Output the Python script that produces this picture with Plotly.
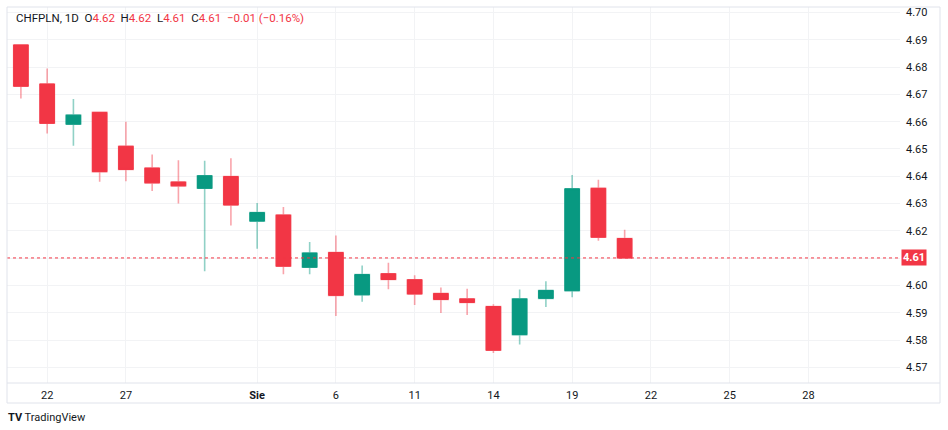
import pandas as pd
import plotly.graph_objects as go

# CHFPLN daily candles (Jul 21 - Aug 21, 2020)
dates = ["2020-07-21", "2020-07-22", "2020-07-23", "2020-07-24", "2020-07-27",
         "2020-07-28", "2020-07-29", "2020-07-30", "2020-07-31", "2020-08-03",
         "2020-08-04", "2020-08-05", "2020-08-06", "2020-08-07", "2020-08-10",
         "2020-08-11", "2020-08-12", "2020-08-13", "2020-08-14", "2020-08-17",
         "2020-08-18", "2020-08-19", "2020-08-20", "2020-08-21"]
opens = [4.6881, 4.6738, 4.6591, 4.6634, 4.6510, 4.6430, 4.6379, 4.6356,
         4.6399, 4.6236, 4.6258, 4.6067, 4.6121, 4.5966, 4.6043, 4.6021,
         4.5971, 4.5951, 4.5923, 4.5820, 4.5953, 4.5981, 4.6356, 4.6172]
highs = [4.6881, 4.6795, 4.6683, 4.6636, 4.6600, 4.6480, 4.6459, 4.6457,
         4.6466, 4.6302, 4.6288, 4.6159, 4.6183, 4.6073, 4.6083, 4.6038,
         4.5993, 4.5988, 4.5931, 4.5985, 4.6016, 4.6405, 4.6387, 4.6204]
lows = [4.6685, 4.6557, 4.6512, 4.6380, 4.6382, 4.6346, 4.6300, 4.6052,
        4.6220, 4.6135, 4.6041, 4.6041, 4.5888, 4.5941, 4.5986, 4.5929,
        4.5899, 4.5892, 4.5753, 4.5784, 4.5921, 4.5957, 4.6164, 4.6100]
closes = [4.6730, 4.6594, 4.6624, 4.6417, 4.6425, 4.6376, 4.6365, 4.6402,
          4.6295, 4.6267, 4.6071, 4.6119, 4.5964, 4.6040, 4.6022, 4.5969,
          4.5949, 4.5938, 4.5763, 4.5951, 4.5982, 4.6354, 4.6177, 4.6101]

tick_dates = ["2020-07-22", "2020-07-27", "2020-08-03", "2020-08-06", "2020-08-11",
              "2020-08-14", "2020-08-19", "2020-08-22", "2020-08-25", "2020-08-28"]
tick_text = ["22", "27", "<b>Sie</b>", "6", "11", "14", "19", "22", "25", "28"]
y_ticks = [4.57, 4.58, 4.59, 4.60, 4.61, 4.62, 4.63, 4.64, 4.65, 4.66, 4.67, 4.68, 4.69, 4.70]

RED = "#F23645"
GREEN = "#089981"
TEXT = "#131722"
BORDER = "#e0e3eb"

# bar index timeline: trading days, then projected calendar days
future = [d.strftime("%Y-%m-%d") for d in pd.date_range("2020-08-22", periods=12)]
timeline = dates + future
x = [timeline.index(d) for d in dates]
tickvals = [timeline.index(d) for d in tick_dates]

body_hi = [max(o, c) for o, c in zip(opens, closes)]
body_lo = [min(o, c) for o, c in zip(opens, closes)]

last = closes[-1]
chg = last - closes[-2]
pct = chg / closes[-2] * 100

def fmt(v):
    return ("%.2f" % v).replace("-", "\u2212")

# price label box sits over the last-price tick
y_text = ["" if fmt(t) == fmt(last) else fmt(t) for t in y_ticks]

fig = go.Figure()
# wicks (lighter)
fig.add_trace(go.Candlestick(
    x=x, open=opens, high=highs, low=lows, close=closes,
    increasing=dict(line=dict(color="rgba(8,153,129,0.45)", width=1.6), fillcolor="rgba(8,153,129,0.45)"),
    decreasing=dict(line=dict(color="rgba(242,54,69,0.45)", width=1.6), fillcolor="rgba(242,54,69,0.45)"),
    whiskerwidth=0, showlegend=False, hoverinfo="skip"))
# bodies
fig.add_trace(go.Candlestick(
    x=x, open=opens, high=body_hi, low=body_lo, close=closes,
    increasing=dict(line=dict(color=GREEN, width=1), fillcolor=GREEN),
    decreasing=dict(line=dict(color=RED, width=1), fillcolor=RED),
    whiskerwidth=0, showlegend=False, hoverinfo="skip"))

header = ("<span style='color:%s'>CHFPLN, 1D&nbsp;&nbsp;O</span>%s"
          "<span style='color:%s'>&nbsp;&nbsp;H</span>%s"
          "<span style='color:%s'>&nbsp;&nbsp;L</span>%s"
          "<span style='color:%s'>&nbsp;&nbsp;C</span>%s&nbsp;&nbsp;%s (%s%%)") % (
    TEXT, fmt(opens[-1]), TEXT, fmt(highs[-1]), TEXT, fmt(lows[-1]), TEXT, fmt(last),
    fmt(chg), fmt(pct))

fig.update_layout(
    width=948, height=430,
    margin=dict(l=7, r=48, t=7, b=47),
    paper_bgcolor="white", plot_bgcolor="white",
    font=dict(family="Roboto, 'Noto Sans', sans-serif", size=11, color=TEXT),
    boxgap=0.21,
    xaxis=dict(range=[-0.53, 33.49], rangeslider=dict(visible=False),
               tickvals=tickvals, ticktext=tick_text, showgrid=True,
               gridcolor="#f2f3f5", gridwidth=1, zeroline=False, showline=False,
               ticks="", ticklabelstandoff=4, tickfont=dict(size=11, color=TEXT)),
    yaxis=dict(range=[4.5643, 4.7020], side="right", tickvals=y_ticks, ticktext=y_text,
               showgrid=True, gridcolor="#f2f3f5", gridwidth=1,
               zeroline=False, showline=False, ticks="", ticklabelstandoff=5,
               tickfont=dict(size=11, color=TEXT)),
    shapes=[
        # last price line
        dict(type="line", xref="paper", x0=0, x1=1, yref="y", y0=last, y1=last,
             line=dict(color=RED, width=1, dash="dot"), layer="above"),
        # chart frame
        dict(type="rect", xref="paper", yref="paper", x0=0, x1=1.0448, y0=-0.0532, y1=1,
             line=dict(color=BORDER, width=1)),
        dict(type="line", xref="paper", yref="paper", x0=0, x1=1.0448, y0=0, y1=0,
             line=dict(color=BORDER, width=1)),
    ],
    annotations=[
        dict(text=header, xref="paper", yref="paper", x=0.0078, y=0.971,
             xanchor="left", yanchor="middle", showarrow=False,
             font=dict(size=11.5, color=RED)),
        dict(text="<b>" + fmt(last) + "</b>", xref="paper", yref="y", x=1.0, y=last,
             xanchor="left", yanchor="middle", showarrow=False, bgcolor=RED,
             borderpad=1, xshift=1, font=dict(size=11, color="white")),
        dict(text="<b>TV</b> TradingView", xref="paper", yref="paper", x=-0.001, y=-0.092,
             xanchor="left", yanchor="middle", showarrow=False,
             font=dict(size=11, color=TEXT)),
    ],
)

fig.write_html("out.html", config={"displayModeBar": False},
               post_script="document.body.style.margin='0';")
